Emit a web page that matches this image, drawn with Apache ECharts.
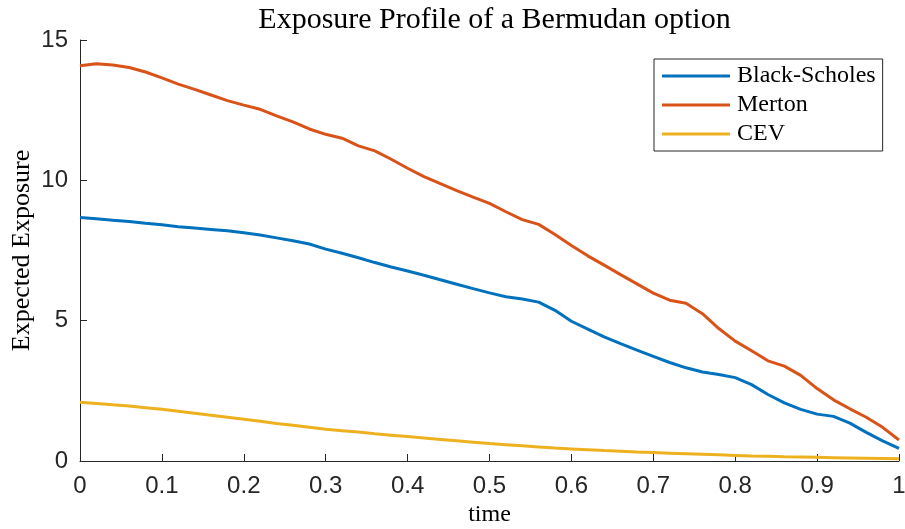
<!DOCTYPE html>
<html>
<head>
<meta charset="utf-8">
<script src="https://cdn.jsdelivr.net/npm/echarts@6/dist/echarts.min.js"></script>
<style>
html,body{margin:0;padding:0;background:#fff;}
#chart{width:905px;height:529px;}
</style>
</head>
<body>
<div id="chart"></div>
<script>
// time grid
const time = [0,0.02,0.04,0.06,0.08,0.10,0.12,0.14,0.16,0.18,0.20,0.22,0.24,0.26,0.28,0.30,0.32,0.34,0.36,0.38,0.40,0.42,0.44,0.46,0.48,0.50,0.52,0.54,0.56,0.58,0.60,0.62,0.64,0.66,0.68,0.70,0.72,0.74,0.76,0.78,0.80,0.82,0.84,0.86,0.88,0.90,0.92,0.94,0.96,0.98,1.00];

const blackScholes = [8.68,8.63,8.58,8.53,8.47,8.42,8.35,8.30,8.25,8.20,8.13,8.05,7.95,7.85,7.73,7.55,7.40,7.24,7.07,6.91,6.77,6.62,6.46,6.30,6.14,5.99,5.85,5.77,5.66,5.37,4.98,4.70,4.42,4.18,3.95,3.73,3.51,3.32,3.17,3.08,2.97,2.72,2.37,2.07,1.84,1.67,1.59,1.35,1.02,0.72,0.45];

const merton = [14.08,14.15,14.11,14.02,13.86,13.65,13.43,13.24,13.04,12.84,12.68,12.53,12.30,12.08,11.83,11.64,11.50,11.23,11.05,10.75,10.43,10.13,9.88,9.63,9.40,9.18,8.88,8.60,8.43,8.07,7.68,7.31,6.98,6.64,6.31,5.98,5.73,5.62,5.25,4.72,4.27,3.93,3.57,3.38,3.05,2.58,2.18,1.86,1.56,1.20,0.75];

const cev = [2.09,2.05,2.00,1.96,1.90,1.84,1.77,1.70,1.63,1.56,1.49,1.42,1.34,1.27,1.20,1.13,1.08,1.03,0.97,0.92,0.87,0.82,0.77,0.72,0.67,0.62,0.58,0.54,0.50,0.46,0.43,0.40,0.37,0.35,0.32,0.30,0.28,0.26,0.24,0.22,0.20,0.18,0.17,0.15,0.14,0.13,0.12,0.11,0.10,0.09,0.08];

const seriesNames = ['Black-Scholes','Merton','CEV'];
const xTicks = [0,0.1,0.2,0.3,0.4,0.5,0.6,0.7,0.8,0.9,1];
const yTicks = [0,5,10,15];

const colors = ['#0072BD','#D95319','#EDB120'];
const serif = '"Liberation Serif", "Times New Roman", serif';
const sans = '"Liberation Sans Narrow", "Liberation Sans", Arial, sans-serif';
const axisColor = '#262626';

const chart = echarts.init(document.getElementById('chart'), null, {renderer:'canvas'});

function pair(vals){ return time.map((t,i)=>[t, vals[i]]); }

const option = {
  animation: false,
  backgroundColor: '#fff',
  title: {
    text: 'Exposure Profile of a Bermudan option',
    left: 489.5, textAlign: 'center', top: 0,
    textStyle: {fontFamily: serif, fontSize: 30, fontWeight: 'normal', color: '#000'}
  },
  legend: {
    left: 654, top: 59,
    orient: 'vertical',
    data: seriesNames,
    icon: 'rect',
    itemWidth: 68, itemHeight: 3,
    itemGap: 5,
    padding: [5, 7, 5, 8],
    borderColor: axisColor, borderWidth: 1,
    backgroundColor: '#fff',
    textStyle: {fontFamily: serif, fontSize: 24, lineHeight: 24, color: '#000', padding: [0,0,0,2]}
  },
  grid: {left: 80, right: 6, top: 40, bottom: 68, containLabel: false, outerBoundsMode: 'none'},
  xAxis: {
    type: 'value', min: 0, max: 1, interval: 0.1,
    name: 'time', nameLocation: 'middle', nameGap: 42, nameMoveOverlap: false,
    nameTextStyle: {fontFamily: serif, fontSize: 24, color: '#000'},
    axisLine: {show: true, onZero: false, lineStyle: {color: axisColor, width: 1}},
    axisTick: {show: true, inside: true, length: 7, lineStyle: {color: axisColor}},
    axisLabel: {
      fontFamily: sans, fontSize: 24, color: axisColor, margin: 13,
      formatter: v => (xTicks.some(t => Math.abs(t - v) < 1e-9) ? String(+v.toFixed(1)) : '')
    },
    splitLine: {show: false}
  },
  yAxis: {
    type: 'value', min: 0, max: 15, interval: 5,
    name: 'Expected Exposure', nameLocation: 'middle', nameGap: 45, nameRotate: 90, nameMoveOverlap: false,
    nameTextStyle: {fontFamily: serif, fontSize: 26, color: '#000'},
    axisLine: {show: true, lineStyle: {color: axisColor, width: 1}},
    axisTick: {show: true, inside: true, length: 7, lineStyle: {color: axisColor}},
    axisLabel: {
      fontFamily: sans, fontSize: 24, color: axisColor, margin: 12,
      formatter: v => (yTicks.includes(v) ? String(v) : '')
    },
    splitLine: {show: false}
  },
  series: [
    {name: seriesNames[0], type: 'line', data: pair(blackScholes), showSymbol: false, symbol: 'none',
     lineStyle: {color: colors[0], width: 3}, itemStyle: {color: colors[0]}, z: 2},
    {name: seriesNames[1], type: 'line', data: pair(merton), showSymbol: false, symbol: 'none',
     lineStyle: {color: colors[1], width: 3}, itemStyle: {color: colors[1]}, z: 3},
    {name: seriesNames[2], type: 'line', data: pair(cev), showSymbol: false, symbol: 'none',
     lineStyle: {color: colors[2], width: 3}, itemStyle: {color: colors[2]}, z: 4}
  ]
};
chart.setOption(option);
</script>
</body>
</html>
